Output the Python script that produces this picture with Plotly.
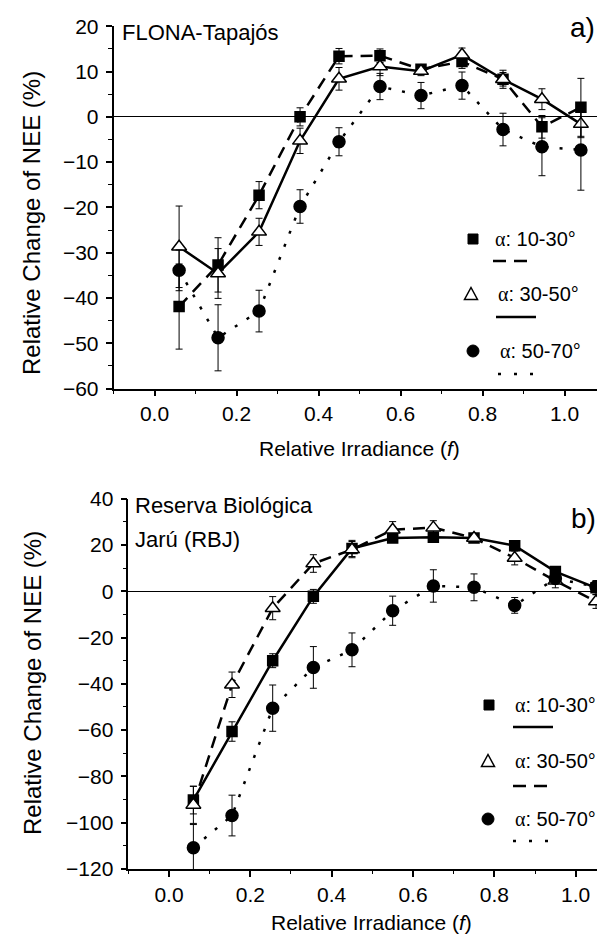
import plotly.graph_objects as go

W, H = 605, 934

# ---------------- data ----------------
x_a = [0.06, 0.155, 0.255, 0.355, 0.45, 0.55, 0.65, 0.75, 0.85, 0.945, 1.04]
sq_a = [-41.9, -32.7, -17.3, 0.0, 13.4, 13.5, 10.5, 12.2, 8.3, -2.2, 2.1]
sq_a_err = [9.4, 6.0, 3.0, 2.0, 1.7, 1.5, 1.0, 1.5, 1.5, 2.5, 6.4]
tri_a = [-28.7, -34.6, -25.4, -5.3, 8.4, 11.1, 10.1, 13.7, 8.3, 3.9, -1.6]
tri_a_err = [9.0, 5.5, 3.0, 2.8, 2.5, 2.0, 1.0, 1.5, 2.0, 2.3, 3.0]
cir_a = [-33.9, -48.8, -42.9, -19.8, -5.5, 6.7, 4.7, 6.9, -2.8, -6.6, -7.3]
cir_a_err = [4.5, 7.3, 4.6, 3.7, 3.1, 2.9, 2.9, 3.0, 3.6, 6.4, 8.9]

x_b = [0.06, 0.155, 0.255, 0.355, 0.45, 0.55, 0.65, 0.75, 0.85, 0.95, 1.05]
sq_b = [-90.2, -60.6, -30.0, -2.2, 18.5, 23.0, 23.3, 23.0, 19.7, 8.5, 1.5]
sq_b_err = [6.0, 4.2, 3.0, 3.0, 3.5, 1.5, 1.5, 1.5, 1.5, 2.0, 3.0]
tri_b = [-92.3, -40.4, -7.3, 12.0, 18.0, 26.6, 27.5, 23.0, 14.4, 4.5, -4.4]
tri_b_err = [8.0, 5.5, 5.0, 3.8, 3.5, 3.5, 3.0, 1.5, 3.0, 3.0, 3.0]
cir_b = [-110.8, -96.9, -50.5, -32.9, -25.3, -8.4, 2.3, 1.7, -6.1, 5.5, 2.0]
cir_b_err = [10.0, 8.8, 10.0, 9.0, 7.3, 6.3, 7.0, 5.8, 3.4, 2.0, 2.5]

x_ticks = [0.0, 0.2, 0.4, 0.6, 0.8, 1.0]
labels_a = ["α: 10-30°", "α: 30-50°", "α: 50-70°"]

FONT = "Liberation Sans, Arial, sans-serif"
SERIF = "Liberation Serif, Times New Roman, serif"


def pxx(x):
    return x / W


def pxy(y):
    return 1 - y / H


fig = go.Figure()


def add_series(x, y, err, xa, ya, dash, symbol, size, fill):
    fig.add_trace(go.Scatter(
        x=x, y=y, mode="lines", xaxis=xa, yaxis=ya, showlegend=False,
        line=dict(color="black", width=2.5, dash=dash), hoverinfo="skip"))
    return dict(x=x, y=y, err=err, xa=xa, ya=ya, symbol=symbol, size=size, fill=fill)


def add_markers(s):
    fig.add_trace(go.Scatter(
        x=s["x"], y=s["y"], mode="markers", xaxis=s["xa"], yaxis=s["ya"], showlegend=False,
        marker=dict(symbol=s["symbol"], size=s["size"], color=s["fill"],
                    line=dict(color="black", width=1.5)),
        error_y=dict(type="data", array=s["err"], visible=True, color="black",
                     thickness=1, width=3.5)))


DASH = "12px,8px"
DOT = "3px,11px"

ser = []
ser.append(add_series(x_a, sq_a, sq_a_err, "x", "y", DASH, "square", 10, "black"))
ser.append(add_series(x_a, tri_a, tri_a_err, "x", "y", "solid", "triangle-up", 13, "white"))
ser.append(add_series(x_a, cir_a, cir_a_err, "x", "y", DOT, "circle", 12, "black"))
ser.append(add_series(x_b, sq_b, sq_b_err, "x2", "y2", "solid", "square", 10, "black"))
ser.append(add_series(x_b, tri_b, tri_b_err, "x2", "y2", DASH, "triangle-up", 13, "white"))
ser.append(add_series(x_b, cir_b, cir_b_err, "x2", "y2", DOT, "circle", 12, "black"))
for s in ser:
    add_markers(s)

tickfont = dict(family=FONT, size=21, color="black")


def xax(domain, rng, anchor):
    return dict(domain=domain, range=rng, anchor=anchor, showline=True, linecolor="black",
                linewidth=1.5, ticks="outside", ticklen=6, tickwidth=1.5, tickcolor="black",
                tickvals=x_ticks, tickformat=".1f", tickfont=tickfont, showgrid=False,
                zeroline=False, minor=dict(ticks="outside", ticklen=3.5, tickwidth=1.2,
                                           tickcolor="black", dtick=0.1, tick0=0),
                automargin=False)


def yax(domain, rng, anchor, dtick, mdtick):
    return dict(domain=domain, range=rng, anchor=anchor, showline=True, linecolor="black",
                linewidth=1.5, ticks="outside", ticklen=6, tickwidth=1.5, tickcolor="black",
                dtick=dtick, tick0=0, tickfont=tickfont, showgrid=False,
                ticklabelstandoff=3,
                zeroline=True, zerolinecolor="black", zerolinewidth=1.2,
                minor=dict(ticks="outside", ticklen=3.5, tickwidth=1.2, tickcolor="black",
                           dtick=mdtick, tick0=0),
                automargin=False)


fig.update_layout(
    width=W, height=H, margin=dict(l=0, r=0, t=0, b=0),
    paper_bgcolor="white", plot_bgcolor="white", showlegend=False,
    font=dict(family=FONT, color="black"),
    xaxis=xax([105.5 / W, 597.5 / W], [-0.1, 1.1], "y"),
    yaxis=yax([pxy(380.5), pxy(18.3)], [-60, 20], "x", 10, 5),
    xaxis2=xax([120.3 / W, 1.0], [-0.1, 1.0917], "y2"),
    yaxis2=yax([pxy(861), pxy(490.7)], [-120, 40], "x2", 20, 10),
)

ann = []
shapes = []


def text(x, y, t, size=22, xanchor="left", angle=0):
    ann.append(dict(x=pxx(x), y=pxy(y), xref="paper", yref="paper", text=t, showarrow=False,
                    xanchor=xanchor, yanchor="middle", textangle=angle,
                    font=dict(family=FONT, size=size, color="black")))


# axis titles
text(24, 215, "Relative Change of NEE (%)", size=24, xanchor="center", angle=-90)
text(24, 675, "Relative Change of NEE (%)", size=24, xanchor="center", angle=-90)
text(351.5, 440, "Relative Irradiance (<i>f</i>)", size=21, xanchor="center")
text(363, 914, "Relative Irradiance (<i>f</i>)", size=21, xanchor="center")

# panel labels
text(112, 25, "FLONA-Tapajós")
text(125, 497, "Reserva Biológica")
text(125, 531, "Jarú (RBJ)")
text(574, 19, "a)", size=28, xanchor="center")
text(575, 510, "b)", size=28, xanchor="center")


def alpha_label(s):
    return s.replace("α", '<span style="font-family:%s">α</span>' % SERIF)


def legend_marker(kind, cx, cy):
    if kind == "square":
        shapes.append(dict(type="rect", xref="paper", yref="paper",
                           x0=pxx(cx - 5), x1=pxx(cx + 5), y0=pxy(cy + 5), y1=pxy(cy - 5),
                           fillcolor="black", line=dict(color="black", width=1)))
    elif kind == "circle":
        shapes.append(dict(type="circle", xref="paper", yref="paper",
                           x0=pxx(cx - 6), x1=pxx(cx + 6), y0=pxy(cy + 6), y1=pxy(cy - 6),
                           fillcolor="black", line=dict(color="black", width=1)))
    else:
        p = "M %f %f L %f %f L %f %f Z" % (pxx(cx - 6.5), pxy(cy + 5.5), pxx(cx + 6.5), pxy(cy + 5.5),
                                           pxx(cx), pxy(cy - 6.5))
        shapes.append(dict(type="path", xref="paper", yref="paper", path=p,
                           fillcolor="white", line=dict(color="black", width=1.5)))


def legend_line(x0, x1, y, dash):
    shapes.append(dict(type="line", xref="paper", yref="paper", x0=pxx(x0), x1=pxx(x1),
                       y0=pxy(y), y1=pxy(y), line=dict(color="black", width=2.5, dash=dash)))


# legend panel a
leg_a = [("square", 465, 231, 485, 253, "dash"),
         ("triangle", 463, 286, 488, 309, "solid"),
         ("circle", 465, 343, 490, 366, "dot")]
# legend panel b
leg_b = [("square", 481, 697, 505, 719, "solid"),
         ("triangle", 480, 753, 505, 778, "dash"),
         ("circle", 480, 811, 505, 833, "dot")]

dash_map = {"dash": "13px,8px", "solid": "solid", "dot": "3px,13px"}
for leg in (leg_a, leg_b):
    for (kind, mx, my, tx, ly, d), lab in zip(leg, labels_a):
        legend_marker(kind, mx, my)
        text(tx, my, alpha_label(lab), size=20)
        legend_line(tx, tx + 40, ly, dash_map[d])

fig.update_layout(annotations=ann, shapes=shapes)
fig.write_html("out.html")
